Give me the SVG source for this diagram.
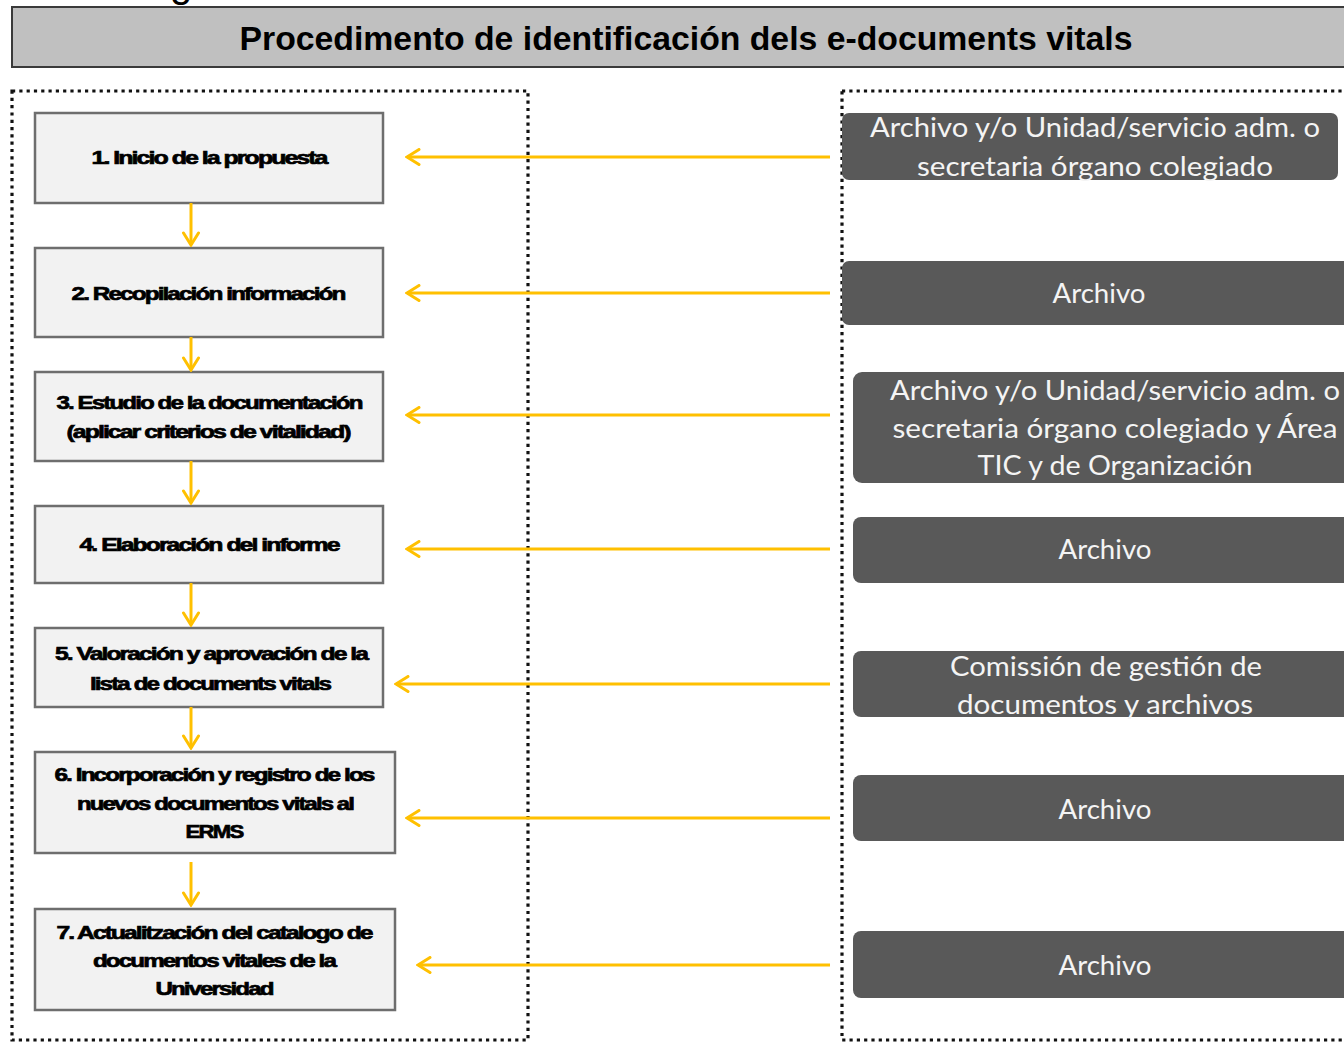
<svg xmlns="http://www.w3.org/2000/svg" width="1344" height="1042" viewBox="0 0 1344 1042">
  <style>
    .dotted { fill: none; stroke: #111; stroke-width: 3.2; stroke-dasharray: 3.2 4.1; }
    .step rect { fill: #f2f2f2; stroke: #6e6e6e; stroke-width: 2.5; }
    .step text { font-family: "Liberation Sans", Arial, sans-serif; font-weight: bold; font-size: 19px; fill: #000; stroke: #000; stroke-width: 0.7; text-anchor: middle; letter-spacing: -1.5px; }
    .actor rect { fill: #595959; }
    .actor text { font-family: Lato, "Noto Sans", sans-serif; font-size: 26px; fill: #f4f4f4; text-anchor: middle; }
    .conn line { stroke: #FFC000; stroke-width: 3; fill: none; }
  </style>
  <defs>
    <marker id="arr" viewBox="0 0 16 18" refX="14" refY="9" markerWidth="16" markerHeight="18" markerUnits="userSpaceOnUse" orient="auto">
      <path d="M2,1.5 L14,9 L2,16.5" fill="none" stroke="#FFC000" stroke-width="3" stroke-linecap="round" stroke-linejoin="miter"/>
    </marker>
  </defs>
  <rect width="1344" height="1042" fill="#ffffff"/>

  <text x="170" y="-3" font-family="Liberation Sans, Arial, sans-serif" font-size="40" fill="#000">g</text>

  <g id="title">
    <rect x="12" y="7" width="1340" height="60" fill="#c0c0c0" stroke="#3a3a3a" stroke-width="2"/>
    <text x="686" y="50" font-family="Liberation Sans Narrow, Liberation Sans, Arial, sans-serif" font-weight="bold" font-size="34" text-anchor="middle" textLength="893" lengthAdjust="spacingAndGlyphs" fill="#000">Procedimento de identificación dels e-documents vitals</text>
  </g>

  <g id="containers">
    <rect class="dotted" x="12" y="91" width="516" height="949"/>
    <rect class="dotted" x="842" y="91" width="520" height="949"/>
  </g>

  <g id="step1" class="step">
    <rect x="35" y="113" width="348" height="90"/>
    <text x="209" y="164" textLength="235" lengthAdjust="spacingAndGlyphs">1. Inicio de la propuesta</text>
  </g>
  <g id="step2" class="step">
    <rect x="35" y="248" width="348" height="89"/>
    <text x="208" y="300" textLength="273" lengthAdjust="spacingAndGlyphs">2. Recopilación información</text>
  </g>
  <g id="step3" class="step">
    <rect x="35" y="372" width="348" height="89"/>
    <text x="209" y="409" textLength="305" lengthAdjust="spacingAndGlyphs">3. Estudio de la documentación</text>
    <text x="208" y="438" textLength="283" lengthAdjust="spacingAndGlyphs">(aplicar criterios de vitalidad)</text>
  </g>
  <g id="step4" class="step">
    <rect x="35" y="506" width="348" height="77"/>
    <text x="209" y="551" textLength="259" lengthAdjust="spacingAndGlyphs">4. Elaboración del informe</text>
  </g>
  <g id="step5" class="step">
    <rect x="35" y="628" width="348" height="79"/>
    <text x="211" y="660" textLength="312" lengthAdjust="spacingAndGlyphs">5. Valoración y aprovación de la</text>
    <text x="210" y="690" textLength="240" lengthAdjust="spacingAndGlyphs">lista de documents vitals</text>
  </g>
  <g id="step6" class="step">
    <rect x="35" y="752" width="360" height="101"/>
    <text x="214" y="781" textLength="319" lengthAdjust="spacingAndGlyphs">6. Incorporación y registro de los</text>
    <text x="215" y="810" textLength="276" lengthAdjust="spacingAndGlyphs">nuevos documentos vitals al</text>
    <text x="214" y="838" textLength="57" lengthAdjust="spacingAndGlyphs">ERMS</text>
  </g>
  <g id="step7" class="step">
    <rect x="35" y="909" width="360" height="101"/>
    <text x="214" y="939" textLength="315" lengthAdjust="spacingAndGlyphs">7. Actualitzación del catalogo de</text>
    <text x="214" y="967" textLength="242" lengthAdjust="spacingAndGlyphs">documentos vitales de la</text>
    <text x="214" y="995" textLength="117" lengthAdjust="spacingAndGlyphs">Universidad</text>
  </g>

  <g id="actor1" class="actor">
    <rect x="842" y="113" width="496" height="67" rx="7"/>
    <text x="1095" y="137" textLength="450" lengthAdjust="spacingAndGlyphs">Archivo y/o Unidad/servicio adm. o</text>
    <text x="1095" y="176" textLength="356" lengthAdjust="spacingAndGlyphs">secretaria órgano colegiado</text>
  </g>
  <g id="actor2" class="actor">
    <rect x="842" y="261" width="510" height="64" rx="7"/>
    <text x="1099" y="303" textLength="93" lengthAdjust="spacingAndGlyphs">Archivo</text>
  </g>
  <g id="actor3" class="actor">
    <rect x="853" y="372" width="499" height="111" rx="9"/>
    <text x="1115" y="400" textLength="450" lengthAdjust="spacingAndGlyphs">Archivo y/o Unidad/servicio adm. o</text>
    <text x="1115" y="438" textLength="445" lengthAdjust="spacingAndGlyphs">secretaria órgano colegiado y Área</text>
    <text x="1115" y="475" textLength="275" lengthAdjust="spacingAndGlyphs">TIC y de Organización</text>
  </g>
  <g id="actor4" class="actor">
    <rect x="853" y="517" width="499" height="66" rx="8"/>
    <text x="1105" y="559" textLength="93" lengthAdjust="spacingAndGlyphs">Archivo</text>
  </g>
  <g id="actor5" class="actor">
    <rect x="853" y="651" width="499" height="66" rx="8"/>
    <text x="1106" y="676" textLength="312" lengthAdjust="spacingAndGlyphs">Comissión de gestión de</text>
    <text x="1105" y="714" textLength="296" lengthAdjust="spacingAndGlyphs">documentos y archivos</text>
  </g>
  <g id="actor6" class="actor">
    <rect x="853" y="775" width="499" height="66" rx="8"/>
    <text x="1105" y="819" textLength="93" lengthAdjust="spacingAndGlyphs">Archivo</text>
  </g>
  <g id="actor7" class="actor">
    <rect x="853" y="931" width="499" height="67" rx="8"/>
    <text x="1105" y="975" textLength="93" lengthAdjust="spacingAndGlyphs">Archivo</text>
  </g>

  <g id="connectors" class="conn">
    <line x1="191" y1="203" x2="191" y2="245" marker-end="url(#arr)"/>
    <line x1="191" y1="337" x2="191" y2="370" marker-end="url(#arr)"/>
    <line x1="191" y1="461" x2="191" y2="503" marker-end="url(#arr)"/>
    <line x1="191" y1="583" x2="191" y2="625" marker-end="url(#arr)"/>
    <line x1="191" y1="707" x2="191" y2="748" marker-end="url(#arr)"/>
    <line x1="191" y1="862" x2="191" y2="905" marker-end="url(#arr)"/>
    <line x1="830" y1="157" x2="407" y2="157" marker-end="url(#arr)"/>
    <line x1="830" y1="293" x2="407" y2="293" marker-end="url(#arr)"/>
    <line x1="830" y1="415" x2="407" y2="415" marker-end="url(#arr)"/>
    <line x1="830" y1="549" x2="407" y2="549" marker-end="url(#arr)"/>
    <line x1="830" y1="684" x2="396" y2="684" marker-end="url(#arr)"/>
    <line x1="830" y1="818" x2="407" y2="818" marker-end="url(#arr)"/>
    <line x1="830" y1="965" x2="418" y2="965" marker-end="url(#arr)"/>
  </g>
</svg>
